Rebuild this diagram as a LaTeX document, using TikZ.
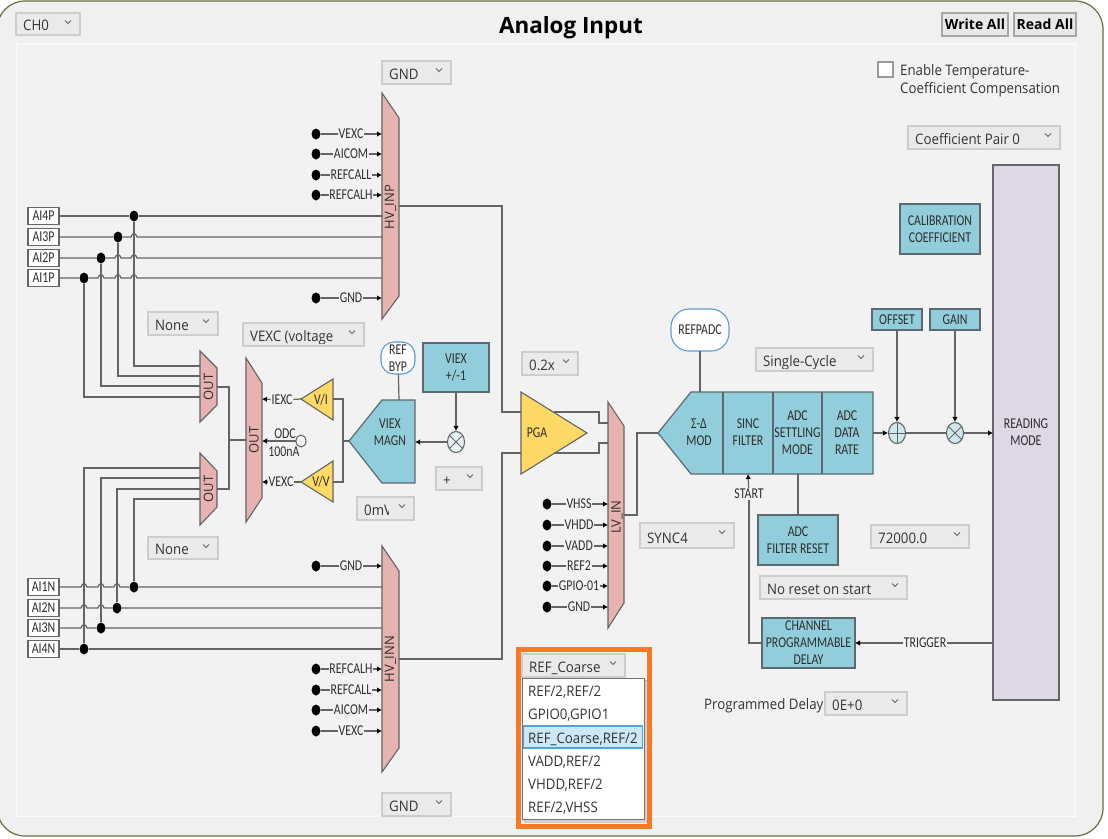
\documentclass[tikz,border=0pt]{standalone}
\usepackage{fontspec}
\setmainfont{Open Sans}
\newfontfamily\uifont[FakeStretch=0.915]{Open Sans}
\newfontfamily\muxfont{Open Sans}
\newfontfamily\labfont[FakeStretch=0.79]{Carlito}
\newfontfamily\titlefont{Open Sans}
\usetikzlibrary{arrows.meta,shapes.geometric}
\definecolor{pinkc}{HTML}{E6B3B0}
\definecolor{bluec}{HTML}{92CDDC}
\definecolor{yelc}{HTML}{FFD966}
\definecolor{lilac}{HTML}{DDD7E6}
\definecolor{wirec}{HTML}{646464}
\definecolor{edgec}{HTML}{5A6A70}
\definecolor{labc}{HTML}{2E2E2E}
\definecolor{combob}{HTML}{CDCDCD}
\definecolor{combof}{HTML}{EAEAEA}
\definecolor{frameo}{HTML}{6B6B45}
\definecolor{orangec}{HTML}{F97A25}
\definecolor{pillc}{HTML}{5B9BD5}
\definecolor{hilite}{HTML}{CCE8F7}
\definecolor{hiedge}{HTML}{4DA6D8}
\tikzset{
 wire/.style={draw=wirec,line width=1.2pt},
 tipped/.style={wire,-{Latex[length=5pt,width=5.5pt,black]}},
 pinlab/.style={inner sep=0.7pt,text=labc,font=\labfont\fontsize{15}{17}\selectfont},
 txtlab/.style={inner sep=0pt,text=labc,align=center,font=\labfont\fontsize{15}{17}\selectfont},
 muxlab/.style={inner sep=0pt,rotate=90,text=labc,font=\muxfont\fontsize{13}{15}\selectfont},
 bluebox/.style={draw=edgec,fill=bluec,line width=1.2pt,inner sep=0pt,outer sep=0pt,align=center,text=labc,font=\labfont\fontsize{15}{17}\selectfont},
 whitepill/.style={draw=pillc,fill=white,line width=1.1pt,inner sep=0pt,outer sep=0pt,align=center,text=labc,font=\labfont\fontsize{15}{17}\selectfont},
 aibox/.style={draw=black!60,fill=white,line width=1.2pt,inner sep=0pt,outer sep=0pt,minimum width=31pt,minimum height=17pt,text=labc,font=\labfont\fontsize{15}{17}\selectfont},
 dotn/.style={ellipse,fill=black,inner sep=0pt,minimum width=9pt,minimum height=11pt},
 pinkshape/.style={draw=wirec,fill=pinkc,line width=1.1pt},
 yelshape/.style={draw=wirec,fill=yelc,line width=1.1pt},
 blueshape/.style={draw=edgec,fill=bluec,line width=1.2pt},
 sumn/.style={ellipse,draw=wirec,fill=bluec!45,line width=1.1pt,inner sep=0pt,minimum width=17pt,minimum height=21pt},
 uitext/.style={inner sep=0pt,text=black!80,font=\uifont\fontsize{14.5}{18}\selectfont},
 btn/.style={draw=black!35,fill=black!9,line width=1.2pt,inner sep=0pt,outer sep=0pt,text=black,font=\titlefont\bfseries\fontsize{14}{17}\selectfont},
}
% combo: name x1 y1 x2 y2 text
\newcommand\combo[6]{%
 \path[draw=combob,line width=1.1pt,fill=combof] (#2,#3) rectangle (#4,#5);
 \begin{scope}
  \clip (#2,#3) rectangle (#4-2,#5-2.5);
  \node[uitext,anchor=base west] (#1) at (#2+7,#5-4.5) {#6};
 \end{scope}
 \draw[black!60,line width=0.9pt] (#4-15,#3+7.5) -- (#4-12,#3+10.5) -- (#4-9,#3+7.5);}
\newcommand\blk[6]{\node[bluebox,minimum width={(#4-#2)*1pt},minimum height={(#5-#3)*1pt}] (#1) at ({(#2+#4)/2},{(#3+#5)/2}) {#6};}
\newcommand\pinline[6]{%
 \node[dotn] (d#1) at (#2,#3) {};
 \node[pinlab] (l#1) at (#5,#3) {#6};
 \coordinate (t#1) at (#4,#3);
 \draw[wire] (d#1) -- (l#1);
 \draw[tipped] (l#1) -- (t#1);}
\newcommand\jump[2]{-- ({#1-3},#2) .. controls ({#1-2},{#2-4.5}) and ({#1+2},{#2-4.5}) .. ({#1+3},#2)}
\begin{document}
\begin{tikzpicture}[x=1pt,y=-1pt]
\useasboundingbox (0,0) rectangle (1108,838);
\fill[white] (0,0) rectangle (1108,838);
\draw[draw=frameo,line width=1.2pt,fill=black!6,rounded corners=28pt] (-3,1) rectangle (1103,836);
\draw[draw=white!70!black!5,line width=1pt,fill=black!5] (16,43) rectangle (1075,816);

% title and buttons
\node[inner sep=0pt,text=black,font=\titlefont\bfseries\fontsize{22.4}{25}\selectfont] (title) at (571,28) {Analog Input};
\node[btn,minimum width=66pt,minimum height=23pt] (wr) at (975,24.5) {Write All};
\node[btn,minimum width=62pt,minimum height=23pt] (rd) at (1045,24.5) {Read All};
\node[draw=black!40,fill=white,line width=1.1pt,minimum width=15pt,minimum height=15pt,inner sep=0pt] (chk) at (885.5,69.5) {};
\node[uitext,anchor=base west] (en1) at (900,75) {Enable Temperature-};
\node[uitext,anchor=base west] (en2) at (900,93) {Coefficient Compensation};
\node[uitext,anchor=base west] (pd) at (704,709) {Programmed Delay};

% combos
\combo{cch}{16}{13}{80}{35}{CH0}
\combo{cgt}{382}{61}{451}{84}{GND}
\combo{cn1}{148}{312}{218}{335}{None}
\combo{cvx}{243}{323}{364}{346}{VEXC (voltage}
\combo{cn2}{148}{537}{218}{559}{None}
\path[fill=combof] (357,497) rectangle (414,520);
\begin{scope}\clip (357,497) rectangle (388,520);\node[uitext,anchor=base west] (cmv) at (364,515.5) {0mV};\end{scope}
\path[draw=combob,line width=1.1pt] (357,497) rectangle (414,520);
\draw[black!60,line width=0.9pt] (399,504.5) -- (402,507.5) -- (405,504.5);
\combo{cpm}{436}{467}{482}{490}{+}
\combo{c02}{522}{352}{578}{375}{0.2x}
\combo{csc}{756}{348}{873}{371}{Single-Cycle}
\combo{csy}{640}{523}{734}{548}{SYNC4}
\combo{c72}{871}{525}{969}{548}{72000.0}
\combo{cns}{760}{576}{907}{599}{No reset on start}
\combo{cde}{825}{692}{907}{715}{0E+0}
\combo{cgb}{382}{793}{451}{816}{GND}
\combo{ccp}{908}{126}{1060}{149}{Coefficient Pair 0}

% pink muxes
\draw[pinkshape] (382,93) -- (399,118) -- (399,296) -- (382,319) -- cycle;
\node[muxlab] (inp) at (390.5,207) {HV\_INP};
\draw[pinkshape] (382,546) -- (399,571) -- (399,748) -- (382,772) -- cycle;
\node[muxlab] (inn) at (390.5,659) {HV\_INN};
\draw[pinkshape] (200,351) -- (217,368) -- (217,405) -- (200,422) -- cycle;
\node[muxlab] (o1) at (208.5,387) {OUT};
\draw[pinkshape] (200,453) -- (217,471) -- (217,507) -- (200,525) -- cycle;
\node[muxlab] (o2) at (208.5,489) {OUT};
\draw[pinkshape] (246,358) -- (262,383) -- (262,498) -- (246,522) -- cycle;
\node[muxlab] (o3) at (254,440) {OUT};
\draw[pinkshape] (608,402) -- (624,426) -- (624,603) -- (608,628) -- cycle;
\node[muxlab] (lvin) at (617,517) {LV\_IN};

% yellow amps
\draw[yelshape] (521,392) -- (587,433) -- (521,474) -- cycle;
\node[txtlab] (pga) at (537,433) {PGA};
\draw[yelshape] (301,399) -- (333,379) -- (333,420) -- cycle;
\node[txtlab] (vi) at (321,400) {V/I};
\draw[yelshape] (301,482) -- (333,461) -- (333,502) -- cycle;
\node[txtlab] (vv) at (321,482) {V/V};

% blue shapes
\draw[blueshape] (349,441) -- (382,400) -- (415,400) -- (415,483) -- (382,483) -- cycle;
\node[txtlab] (mag) at (390,432.5) {VIEX\\MAGN};
\blk{vpm}{423}{343}{489}{392}{VIEX\\+/-1}
\draw[blueshape] (658,433) -- (691,392) -- (873,392) -- (873,474) -- (691,474) -- cycle;
\coordinate (dv1t) at (723,392);\coordinate (dv1b) at (723,474);
\coordinate (dv2t) at (773,392);\coordinate (dv2b) at (773,474);
\coordinate (dv3t) at (822,392);\coordinate (dv3b) at (822,474);
\draw[draw=edgec,line width=1.2pt] (dv1t) -- (dv1b) (dv2t) -- (dv2b) (dv3t) -- (dv3b);
\node[txtlab] (sd) at (699,432.5) {Σ-Δ\\MOD};
\node[txtlab] (sinc) at (748,432.5) {SINC\\FILTER};
\node[txtlab] (sett) at (797.5,432.5) {ADC\\SETTLING\\MODE};
\node[txtlab] (rate) at (847,432.5) {ADC\\DATA\\RATE};
\blk{cal}{900}{204}{980}{254}{CALIBRATION\\COEFFICIENT}
\blk{ofs}{872}{309}{922}{330}{OFFSET}
\blk{gain}{930}{309}{980}{330}{GAIN}
\blk{afr}{758}{515}{838}{565}{ADC\\FILTER RESET}
\blk{cpd}{762}{618}{855}{668}{CHANNEL\\PROGRAMMABLE\\DELAY}
\node[draw=black!60,fill=lilac,line width=1.3pt,minimum width=66pt,minimum height=535pt,inner sep=0pt,outer sep=0pt] (rm) at (1026,432.5) {};
\node[txtlab] (rmt) at (1026,432.5) {READING\\MODE};
\node[whitepill,rounded corners=13pt,minimum width=34pt,minimum height=32pt] (byp) at (398,358) {REF\\BYP};
\node[whitepill,minimum width=58pt,minimum height=42pt,rounded corners=18pt] (rpa) at (700,330) {REFPADC};

% sum junctions
\node[sumn,fill=white!80!bluec] (mx) at (456,442) {};
\draw[wirec,line width=1pt] (mx.45) -- (mx.225) (mx.135) -- (mx.315);
\node[sumn] (pl) at (897,433) {};
\draw[wirec,line width=1pt] (pl.north) -- (pl.south) (pl.east) -- (pl.west);
\node[sumn] (gx) at (955,433) {};
\draw[wirec,line width=1pt] (gx.45) -- (gx.225) (gx.135) -- (gx.315);

% AI labels and dots
\foreach \n/\y/\x in {4p/216/134,3p/237/118,2p/258/101,1p/278/84,1n/587/134,2n/608/117,3n/628/101,4n/649/84}{
  \node[dotn] (d\n) at (\x,\y) {};
  \coordinate (t\n) at (382,\y);
}
\node[aibox] (ai4p) at (43.5,216) {AI4P};
\node[aibox] (ai3p) at (43.5,237) {AI3P};
\node[aibox] (ai2p) at (43.5,258) {AI2P};
\node[aibox] (ai1p) at (43.5,278) {AI1P};
\node[aibox] (ai1n) at (43.5,587) {AI1N};
\node[aibox] (ai2n) at (43.5,608) {AI2N};
\node[aibox] (ai3n) at (43.5,628) {AI3N};
\node[aibox] (ai4n) at (43.5,649) {AI4N};

\draw[wire] (ai4p) -- (d4p.west) (d4p.east) -- (t4p);
\draw[wire] (ai3p) -- (d3p.west) (d3p.east) \jump{134}{237} -- (t3p);
\draw[wire] (ai2p) -- (d2p.west) (d2p.east) \jump{118}{258} \jump{134}{258} -- (t2p);
\draw[wire] (ai1p) -- (d1p.west) (d1p.east) \jump{101}{278} \jump{118}{278} \jump{134}{278} -- (t1p);
\draw[wire] (ai1n) \jump{84}{587} \jump{101}{587} \jump{117}{587} -- (d1n.west) (d1n.east) -- (t1n);
\draw[wire] (ai2n) \jump{84}{608} \jump{101}{608} -- (d2n.west) (d2n.east) -- (t2n);
\draw[wire] (ai3n) \jump{84}{628} -- (d3n.west) (d3n.east) -- (t3n);
\draw[wire] (ai4n) -- (d4n.west) (d4n.east) -- (t4n);

% to OUT muxes
\coordinate (o1a) at (200,366);\coordinate (o1b) at (200,376);\coordinate (o1c) at (200,386);\coordinate (o1d) at (200,397);
\coordinate (o2a) at (200,468);\coordinate (o2b) at (200,478);\coordinate (o2c) at (200,489);\coordinate (o2d) at (200,499);
\draw[wire] (d4p.south) |- (o1a);
\draw[wire] (d3p.south) |- (o1b);
\draw[wire] (d2p.south) |- (o1c);
\draw[wire] (d1p.south) |- (o1d);
\draw[wire] (d4n.north) |- (o2a);
\draw[wire] (d3n.north) |- (o2b);
\draw[wire] (d2n.north) |- (o2c);
\draw[wire] (d1n.north) |- (o2d);
\coordinate (o1r) at (217,387);\coordinate (o2r) at (217,489);\coordinate (o3l) at (246,440);\coordinate (busm) at (229,440);
\draw[wire] (o1r) -| (busm) |- (o2r);
\draw[wire] (busm) -- (o3l);

% current / voltage paths
\coordinate (o3i) at (262,399);\coordinate (o3o) at (262,441);\coordinate (o3v) at (262,482);
\coordinate (vit) at (301,399);\coordinate (vvt) at (301,482);
\coordinate (vir) at (333,399);\coordinate (vvr) at (333,482);
\coordinate (magtip) at (349,441);\coordinate (busv) at (343,441);
\node[pinlab] (iexc) at (282,400) {IEXC};
\node[pinlab] (vexc) at (281,482) {VEXC};
\draw[wire] (vit) -- (iexc);\draw[tipped] (iexc) -- (o3i);
\draw[wire] (vvt) -- (vexc);\draw[tipped] (vexc) -- (o3v);
\node[draw=wirec,line width=1pt,ellipse,inner sep=0pt,minimum width=10pt,minimum height=12pt] (odc) at (301,441) {};
\draw[tipped] (odc) -- (o3o);
\node[pinlab,inner sep=0pt] (odct) at (285,434) {ODC};
\node[pinlab,inner sep=0pt] (odcn) at (284,452) {100nA};
\draw[wire] (vir) -| (busv) |- (vvr);
\draw[wire] (busv) -- (magtip);
\coordinate (magt) at (399,400);\coordinate (magr) at (415,442);
\draw[wire] (byp) -- (magt);
\draw[tipped] (vpm) -- (mx);
\draw[tipped] (mx) -- (magr);

% pins
\pinline{a}{316}{134}{382}{351}{VEXC}
\pinline{b}{316}{154}{382}{351}{AICOM}
\pinline{c}{316}{175}{382}{351}{REFCALL}
\pinline{e}{316}{195}{382}{351}{REFCALH}
\pinline{f}{316}{298}{382}{351}{GND}
\pinline{g}{316}{566}{382}{351}{GND}
\pinline{h}{316}{669}{382}{351}{REFCALH}
\pinline{i}{316}{690}{382}{351}{REFCALL}
\pinline{j}{316}{710}{382}{351}{AICOM}
\pinline{k}{316}{731}{382}{351}{VEXC}
\pinline{m}{547}{504}{608}{579}{VHSS}
\pinline{n}{547}{525}{608}{579}{VHDD}
\pinline{o}{547}{546}{608}{579}{VADD}
\pinline{p}{547}{566}{608}{579}{REF2}
\pinline{q}{547}{586}{608}{579}{GPIO-01}
\pinline{r}{547}{607}{608}{579}{GND}

% mux to PGA to ADC
\coordinate (inpr) at (399,206);\coordinate (pgaa) at (521,412);\coordinate (busa) at (502,206);
\draw[wire] (inpr) -- (busa) |- (pgaa);
\coordinate (innr) at (399,659);\coordinate (pgab) at (521,453);\coordinate (busb) at (502,659);
\draw[wire] (innr) -- (busb) |- (pgab);
\coordinate (pgo1) at (554,412);\coordinate (pgo2) at (554,453);
\coordinate (lv1) at (608,423);\coordinate (lv2) at (608,443);
\coordinate (el1) at (599,412);\coordinate (el2) at (599,453);
\draw[wire] (pgo1) -- (el1) |- (lv1);
\draw[wire] (pgo2) -- (el2) |- (lv2);
\coordinate (lvo) at (624,515);\coordinate (sdtip) at (658,433);\coordinate (elc) at (637,515);
\draw[wire] (lvo) -- (elc) |- (sdtip);
\coordinate (rpab) at (700,392);
\draw[wire] (rpa) -- (rpab);
\coordinate (sts) at (748,474);
\node[pinlab] (start) at (749,494) {START};
\draw[tipped] (start) -- (sts);
\draw[wire] (start) |- (cpd);
\coordinate (afrt) at (798,474);
\draw[wire] (afrt) -- (afr);
\node[pinlab] (trig) at (925,643) {TRIGGER};
\coordinate (rml) at (993,643);
\draw[wire] (rml) -- (trig);
\draw[tipped] (trig) -- (cpd);
\coordinate (adco) at (873,433);\coordinate (rmin) at (993,433);
\draw[tipped] (adco) -- (pl);
\draw[wire] (pl) -- (gx);
\draw[tipped] (gx) -- (rmin);
\draw[tipped] (ofs) -- (pl);
\draw[tipped] (gain) -- (gx);

% dropdown in orange frame
\fill[black!30] (524,680) rectangle (647,822);
\fill[black!18] (525,681) rectangle (649,823);
\draw[draw=black!55,line width=1pt,fill=white] (522,678) rectangle (644,819);
\draw[draw=hiedge,line width=1.3pt,fill=hilite] (523.5,726) rectangle (642.5,748);
\combo{cref}{522}{654}{625}{677}{REF\_Coarse}
\foreach \nm/\y/\t in {da/696/{REF/2,REF/2},db/719.5/{GPIO0,GPIO1},dc/743/{REF\_Coarse,REF/2},dd/766/{VADD,REF/2},de/789/{VHDD,REF/2},df/812/{REF/2,VHSS}}{
  \node[uitext,anchor=base west] (\nm) at (528,\y) {\t};
}
\draw[draw=orangec,line width=5pt] (518.5,649.5) rectangle (649.5,826.5);
\end{tikzpicture}
\end{document}
